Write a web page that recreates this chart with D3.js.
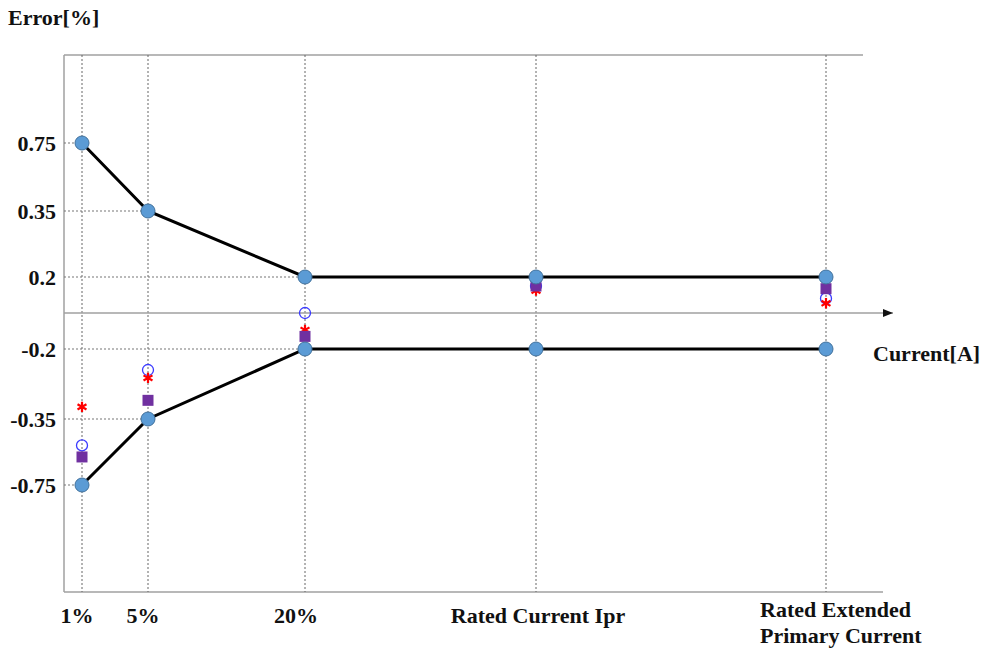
<!DOCTYPE html>
<html><head><meta charset="utf-8">
<script src="https://cdn.jsdelivr.net/npm/d3@7"></script>
<style>body{margin:0;background:#fff}text{font-family:"Liberation Serif","Times New Roman",serif;font-weight:bold;fill:#111}</style>
</head><body><svg id="c" width="982" height="651"></svg>
<script>
const categories = ["1%", "5%", "20%", "Rated Current Ipr", "Rated Extended\nPrimary Current"];
const upperLimit = [0.75, 0.35, 0.2, 0.2, 0.2];
const lowerLimit = [-0.75, -0.35, -0.2, -0.2, -0.2];
const squareSeries = [-0.58, -0.31, -0.13, 0.15, 0.135];
const openCircleSeries = [-0.51, -0.245, 0.0, 0.15, 0.081];
const starSeries = [-0.324, -0.262, -0.094, 0.124, 0.054];
const yTicks = [0.75, 0.35, 0.2, -0.2, -0.35, -0.75];

const svg = d3.select("#c");
const x = d3.scaleOrdinal().domain(categories).range([82, 148, 305, 536, 826]);
const y = d3.scaleLinear().domain([-0.75, -0.35, -0.2, 0, 0.2, 0.35, 0.75])
  .range([485, 419, 349, 313, 277, 211, 143]);
const plotTop = 55, plotBottom = 592, plotLeft = 64;
const axisCol = "#a0a0a0";

// frame
svg.append("line").attr("x1", plotLeft).attr("x2", 863).attr("y1", plotTop).attr("y2", plotTop).attr("stroke", axisCol).attr("stroke-width", 1.5);
svg.append("line").attr("x1", plotLeft).attr("x2", plotLeft).attr("y1", plotTop).attr("y2", plotBottom).attr("stroke", axisCol).attr("stroke-width", 1.5);
svg.append("line").attr("x1", plotLeft).attr("x2", 883).attr("y1", plotBottom).attr("y2", plotBottom).attr("stroke", axisCol).attr("stroke-width", 1.5);

// vertical dotted gridlines
svg.selectAll(".vg").data(categories).enter().append("line")
  .attr("x1", d => x(d)).attr("x2", d => x(d)).attr("y1", plotTop).attr("y2", plotBottom)
  .attr("stroke", "#666").attr("stroke-width", 1).attr("stroke-dasharray", "2,2");

// horizontal dotted guides from axis to limit points
const guides = [];
upperLimit.forEach((v, i) => { if (!guides.find(g => g.v === v)) guides.push({v, c: categories[i]}); });
lowerLimit.forEach((v, i) => { if (!guides.find(g => g.v === v)) guides.push({v, c: categories[i]}); });
svg.selectAll(".hg").data(guides).enter().append("line")
  .attr("x1", plotLeft).attr("x2", d => x(d.c)).attr("y1", d => y(d.v)).attr("y2", d => y(d.v))
  .attr("stroke", "#777").attr("stroke-width", 1.2).attr("stroke-dasharray", "2,2");

// x axis at zero with arrow
svg.append("defs").append("marker").attr("id", "arr").attr("viewBox", "0 0 10 10")
  .attr("refX", 10).attr("refY", 5).attr("markerWidth", 10).attr("markerHeight", 10)
  .attr("markerUnits", "userSpaceOnUse").attr("orient", "auto")
  .append("path").attr("d", "M0,1 L10,5 L0,9 Z").attr("fill", "#111");
svg.append("line").attr("x1", plotLeft).attr("x2", 893).attr("y1", y(0)).attr("y2", y(0))
  .attr("stroke", axisCol).attr("stroke-width", 1.5).attr("marker-end", "url(#arr)");

// y tick labels
svg.selectAll(".yt").data(yTicks).enter().append("text")
  .attr("x", 56).attr("y", d => y(d)).attr("dy", "0.35em").attr("text-anchor", "end")
  .attr("font-size", 22).text(d => d);

// titles
svg.append("text").attr("x", 8).attr("y", 25).attr("font-size", 22).text("Error[%]");
svg.append("text").attr("x", 873).attr("y", 361).attr("font-size", 22).text("Current[A]");

// x labels
const labelShift = [-5, -5, -9, 2, 0];
categories.forEach((c, i) => {
  const lines = c.split("\n");
  if (lines.length === 1) {
    svg.append("text").attr("x", x(c) + labelShift[i]).attr("y", 623).attr("text-anchor", "middle")
      .attr("font-size", 22).text(c);
  } else {
    const t = svg.append("text").attr("x", 760).attr("y", 617).attr("font-size", 22);
    lines.forEach((l, k) => t.append("tspan").attr("x", 760).attr("dy", k ? 26 : 0).text(l));
  }
});

// limit lines
const line = d3.line().x(d => x(d.c)).y(d => y(d.v));
[upperLimit, lowerLimit].forEach(arr => {
  const pts = arr.map((v, i) => ({c: categories[i], v}));
  svg.append("path").attr("d", line(pts)).attr("fill", "none").attr("stroke", "#000").attr("stroke-width", 3);
});

// measurement markers
const ser = (arr) => arr.map((v, i) => ({c: categories[i], v}));
svg.selectAll(".oc").data(ser(openCircleSeries)).enter().append("circle")
  .attr("cx", d => x(d.c)).attr("cy", d => y(d.v)).attr("r", 5.5)
  .attr("fill", "none").attr("stroke", "#3b3bff").attr("stroke-width", 1.3);
const star = d3.symbol().type(d3.symbolAsterisk).size(75);
svg.selectAll(".st").data(ser(starSeries)).enter().append("path")
  .attr("d", star).attr("transform", d => `translate(${x(d.c)},${y(d.v)})`)
  .attr("fill", "none").attr("stroke", "#ff0000").attr("stroke-width", 2.2);
svg.selectAll(".sq").data(ser(squareSeries)).enter().append("rect")
  .attr("x", d => x(d.c) - 5.5).attr("y", d => y(d.v) - 5.5).attr("width", 11).attr("height", 11)
  .attr("fill", "#7030a0");

// limit points
[upperLimit, lowerLimit].forEach(arr => {
  svg.selectAll(null).data(ser(arr)).enter().append("circle")
    .attr("cx", d => x(d.c)).attr("cy", d => y(d.v)).attr("r", 7)
    .attr("fill", "#5b9bd5").attr("stroke", "#41719c").attr("stroke-width", 1);
});
</script></body></html>
